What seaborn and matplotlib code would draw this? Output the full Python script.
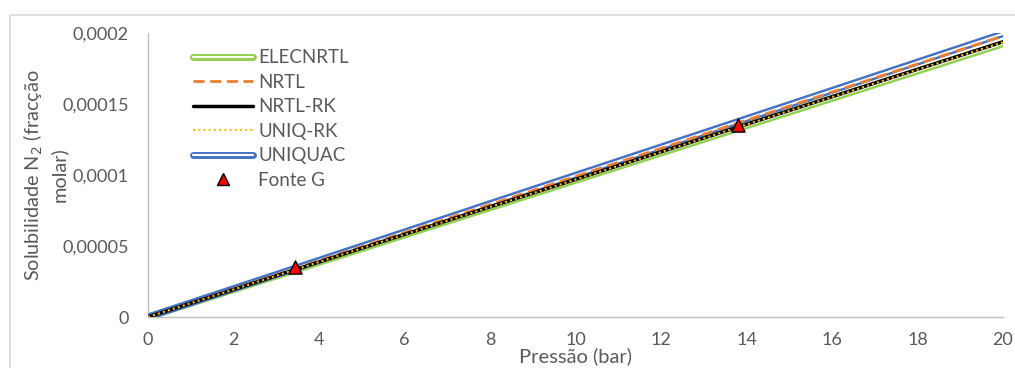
import matplotlib
matplotlib.use('Agg')
import matplotlib.pyplot as plt
from matplotlib.lines import Line2D
from matplotlib.legend_handler import HandlerTuple
from matplotlib.patches import Rectangle
import seaborn as sns

# Data
pressao = [0, 5, 10, 15, 20]
elecnrtl = [0, 4.81e-5, 9.62e-5, 1.443e-4, 1.924e-4]
nrtl = [0, 4.95e-5, 9.90e-5, 1.485e-4, 1.980e-4]
nrtl_rk = [0, 4.85e-5, 9.69e-5, 1.454e-4, 1.938e-4]
uniq_rk = [0, 4.84e-5, 9.68e-5, 1.452e-4, 1.935e-4]
uniquac = [0, 4.99e-5, 9.98e-5, 1.496e-4, 1.995e-4]

fonte_p = [3.45, 13.79]
fonte_s = [3.53e-5, 1.355e-4]

yticks = [0, 0.00005, 0.0001, 0.00015, 0.0002]
ytick_labels = ['0', '0,00005', '0,0001', '0,00015', '0,0002']
xticks = list(range(0, 21, 2))

sns.set_style('white')
plt.rcParams['font.family'] = ['Lato', 'DejaVu Sans']
txt = '#595959'

fig = plt.figure(figsize=(10.15, 3.68), dpi=100)
ax = fig.add_axes([148 / 1015, 1 - 317 / 368, 855 / 1015, 284 / 368])

green, orange, blue, yellow = '#92D050', '#ED7D31', '#4472C4', '#FFC000'

sns.lineplot(x=pressao, y=elecnrtl, ax=ax, color=green, linewidth=5, zorder=2)
sns.lineplot(x=pressao, y=elecnrtl, ax=ax, color='white', linewidth=1.5, zorder=2)
sns.lineplot(x=pressao, y=uniquac, ax=ax, color=blue, linewidth=5, zorder=3)
sns.lineplot(x=pressao, y=uniquac, ax=ax, color='white', linewidth=1.5, zorder=3)
sns.lineplot(x=pressao, y=nrtl, ax=ax, color=orange, linewidth=2, linestyle=(0, (4, 2)), zorder=4)
sns.lineplot(x=pressao, y=nrtl_rk, ax=ax, color='black', linewidth=2.5, zorder=5)
sns.lineplot(x=pressao, y=uniq_rk, ax=ax, color=yellow, linewidth=1.5, linestyle=(0, (1, 1.5)), zorder=6)
sns.scatterplot(x=fonte_p, y=fonte_s, ax=ax, marker='^', s=90, color='#FF0000',
                edgecolor='black', linewidth=1, zorder=7)

ax.set_xlim(0, 20)
ax.set_ylim(0, 0.0002)
ax.set_xticks(xticks)
ax.set_xticklabels([str(v) for v in xticks])
ax.set_yticks(yticks)
ax.set_yticklabels(ytick_labels)
ax.tick_params(axis='both', length=0, labelsize=13, colors=txt)
ax.tick_params(axis='x', pad=11)
ax.tick_params(axis='y', pad=14)
for s in ['top', 'right']:
    ax.spines[s].set_visible(False)
for s in ['left', 'bottom']:
    ax.spines[s].set_color('#BFBFBF')
    ax.spines[s].set_linewidth(1)

ax.set_xlabel('Pressão (bar)', fontsize=14.5, color=txt, labelpad=-1)
ax.set_ylabel('Solubilidade N$_2$ (fracção\nmolar)', fontsize=14.3, color=txt,
              labelpad=-4, linespacing=1.3)

# legend
h_elec = (Line2D([], [], color=green, linewidth=5), Line2D([], [], color='white', linewidth=1.5))
h_nrtl = Line2D([], [], color=orange, linewidth=2, linestyle=(0, (4, 2)))
h_nrk = Line2D([], [], color='black', linewidth=2.5)
h_urk = Line2D([], [], color=yellow, linewidth=1.5, linestyle=(0, (1, 1.5)))
h_uq = (Line2D([], [], color=blue, linewidth=5), Line2D([], [], color='white', linewidth=1.5))
h_f = Line2D([], [], color='none', marker='^', markersize=9, markerfacecolor='#FF0000',
             markeredgecolor='black')
leg = ax.legend([h_elec, h_nrtl, h_nrk, h_urk, h_uq, h_f],
                ['ELECNRTL', 'NRTL', 'NRTL-RK', 'UNIQ-RK', 'UNIQUAC', 'Fonte G'],
                handler_map={tuple: HandlerTuple(ndivide=1)},
                loc='upper left', bbox_to_anchor=(0.053, 0.943), frameon=False,
                fontsize=13.5, handlelength=3.2, handletextpad=0.27,
                labelspacing=0.4, borderpad=0, borderaxespad=0)
for t in leg.get_texts():
    t.set_color(txt)

# outer chart border
fig.patches.append(Rectangle((10 / 1015, -0.1), 1.2, 1.1 - 15 / 368, transform=fig.transFigure,
                             fill=False, edgecolor='#D9D9D9', linewidth=1.2, zorder=0))

fig.savefig('out.png', dpi=100)
